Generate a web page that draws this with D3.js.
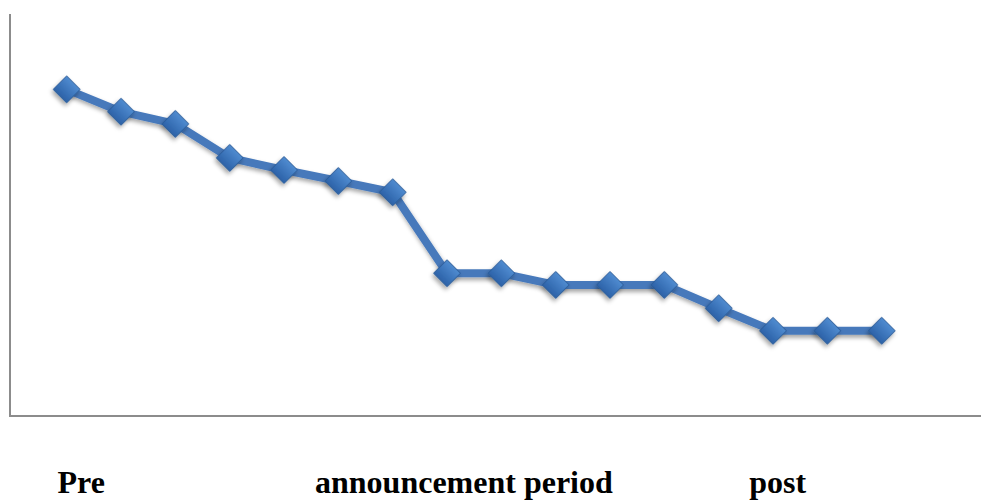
<!DOCTYPE html>
<html>
<head>
<meta charset="utf-8">
<script src="https://cdn.jsdelivr.net/npm/d3@7"></script>
<style>
  html, body { margin: 0; padding: 0; background: #fff; }
  svg { display: block; }
</style>
</head>
<body>
<svg id="chart" width="981" height="500"></svg>
<script>
// Observation index along the event window
const periods = d3.range(16);
// Series values per observation
const values = [16.25, 15.14, 14.53, 12.84, 12.24, 11.69, 11.13, 7.1, 7.1, 6.52, 6.52, 6.52, 5.36, 4.24, 4.24, 4.24];
// Phase labels under the axis, with the observation index they start at
const phaseLabels = ["Pre", "announcement period", "post"];
const phaseAnchors = [-0.17, 4.57, 12.56];

const svg = d3.select("#chart");
const W = 981, H = 500;
const plotLeft = 10, plotTop = 14, plotBottom = 416;

const x = d3.scaleLinear().domain([0, 15]).range([66.7, 881.7]);
const y = d3.scaleLinear().domain([0, 20]).range([plotBottom, plotTop]);

const defs = svg.append("defs");
const grad = defs.append("linearGradient")
  .attr("id", "markerFill").attr("x1", 0).attr("y1", 0).attr("x2", 0).attr("y2", 1);
grad.append("stop").attr("offset", "0%").attr("stop-color", "#4f8bd0");
grad.append("stop").attr("offset", "100%").attr("stop-color", "#2c62a8");

const shadow = defs.append("filter").attr("id", "shadow")
  .attr("x", "-50%").attr("y", "-50%").attr("width", "200%").attr("height", "200%");
shadow.append("feDropShadow").attr("dx", 1).attr("dy", 3)
  .attr("stdDeviation", 2).attr("flood-color", "#000").attr("flood-opacity", 0.35);

// Axes: plain grey lines, no ticks
svg.append("line").attr("x1", plotLeft).attr("x2", plotLeft).attr("y1", plotTop).attr("y2", plotBottom + 1)
  .attr("stroke", "#8c8c8c").attr("stroke-width", 2);
svg.append("line").attr("x1", plotLeft).attr("x2", W).attr("y1", plotBottom).attr("y2", plotBottom)
  .attr("stroke", "#8c8c8c").attr("stroke-width", 2);

const line = d3.line().x((d, i) => x(periods[i])).y(d => y(d));

svg.append("path")
  .datum(values)
  .attr("d", line)
  .attr("fill", "none")
  .attr("stroke", "#4779bb")
  .attr("stroke-width", 8)
  .attr("stroke-linejoin", "round")
  .attr("filter", "url(#shadow)");

const diamond = d3.symbol().type(d3.symbolSquare).size(360);

svg.append("g").selectAll("path")
  .data(values)
  .join("path")
  .attr("d", diamond)
  .attr("transform", (d, i) => `translate(${x(periods[i])},${y(d)}) rotate(45)`)
  .attr("fill", "url(#markerFill)")
  .attr("stroke", "#2a5a98")
  .attr("stroke-width", 0.8)
  .attr("filter", "url(#shadow)");

svg.append("g").selectAll("text")
  .data(phaseLabels)
  .join("text")
  .attr("x", (d, i) => x(phaseAnchors[i]))
  .attr("y", 493)
  .attr("font-family", "'Liberation Serif', 'Times New Roman', serif")
  .attr("font-weight", "bold")
  .attr("font-size", 32)
  .attr("fill", "#000")
  .text(d => d);
</script>
</body>
</html>
